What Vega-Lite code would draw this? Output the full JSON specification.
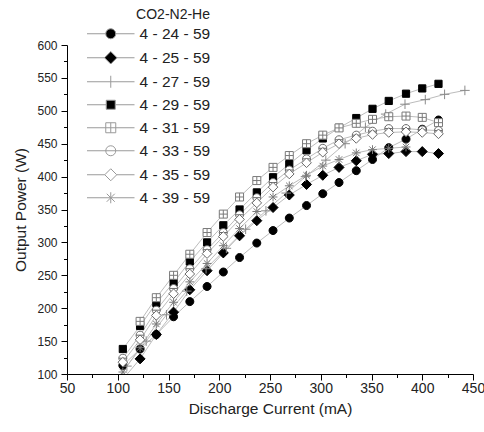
{
  "$schema": "https://vega.github.io/schema/vega-lite/v6.json",
  "width": 406,
  "height": 329,
  "autosize": {"type": "none"},
  "padding": {"left": 67, "top": 45, "right": 11, "bottom": 58},
  "background": "white",
  "config": {
    "view": {"stroke": null},
    "font": "Liberation Sans",
    "axis": {
      "grid": false,
      "domainColor": "#000",
      "tickColor": "#000",
      "labelColor": "#222",
      "titleColor": "#222",
      "titleFontWeight": "normal",
      "titleFont": "Liberation Sans",
      "labelFont": "Liberation Sans"
    },
    "legend": {"titleFontWeight": "normal"}
  },
  "data": {
    "values": [
      {"s": "4 - 24 - 59", "x": 105, "y": 113}, {"s": "4 - 24 - 59", "x": 122, "y": 138}, {"s": "4 - 24 - 59", "x": 138, "y": 160}, {"s": "4 - 24 - 59", "x": 155, "y": 187}, {"s": "4 - 24 - 59", "x": 171, "y": 210}, {"s": "4 - 24 - 59", "x": 188, "y": 233}, {"s": "4 - 24 - 59", "x": 204, "y": 255}, {"s": "4 - 24 - 59", "x": 220, "y": 277}, {"s": "4 - 24 - 59", "x": 237, "y": 299}, {"s": "4 - 24 - 59", "x": 253, "y": 318}, {"s": "4 - 24 - 59", "x": 269, "y": 337}, {"s": "4 - 24 - 59", "x": 286, "y": 356}, {"s": "4 - 24 - 59", "x": 302, "y": 374}, {"s": "4 - 24 - 59", "x": 318, "y": 391}, {"s": "4 - 24 - 59", "x": 335, "y": 409}, {"s": "4 - 24 - 59", "x": 351, "y": 426}, {"s": "4 - 24 - 59", "x": 367, "y": 444}, {"s": "4 - 24 - 59", "x": 384, "y": 457}, {"s": "4 - 24 - 59", "x": 400, "y": 472}, {"s": "4 - 24 - 59", "x": 416, "y": 486},
      {"s": "4 - 25 - 59", "x": 105, "y": 92}, {"s": "4 - 25 - 59", "x": 122, "y": 123}, {"s": "4 - 25 - 59", "x": 138, "y": 160}, {"s": "4 - 25 - 59", "x": 155, "y": 194}, {"s": "4 - 25 - 59", "x": 171, "y": 228}, {"s": "4 - 25 - 59", "x": 188, "y": 257}, {"s": "4 - 25 - 59", "x": 204, "y": 284}, {"s": "4 - 25 - 59", "x": 220, "y": 310}, {"s": "4 - 25 - 59", "x": 237, "y": 333}, {"s": "4 - 25 - 59", "x": 253, "y": 353}, {"s": "4 - 25 - 59", "x": 269, "y": 372}, {"s": "4 - 25 - 59", "x": 286, "y": 388}, {"s": "4 - 25 - 59", "x": 302, "y": 402}, {"s": "4 - 25 - 59", "x": 318, "y": 414}, {"s": "4 - 25 - 59", "x": 335, "y": 424}, {"s": "4 - 25 - 59", "x": 351, "y": 434}, {"s": "4 - 25 - 59", "x": 367, "y": 435}, {"s": "4 - 25 - 59", "x": 384, "y": 438}, {"s": "4 - 25 - 59", "x": 400, "y": 438}, {"s": "4 - 25 - 59", "x": 416, "y": 435},
      {"s": "4 - 27 - 59", "x": 109, "y": 112}, {"s": "4 - 27 - 59", "x": 128, "y": 150}, {"s": "4 - 27 - 59", "x": 148, "y": 190}, {"s": "4 - 27 - 59", "x": 168, "y": 226}, {"s": "4 - 27 - 59", "x": 187, "y": 260}, {"s": "4 - 27 - 59", "x": 207, "y": 291}, {"s": "4 - 27 - 59", "x": 226, "y": 320}, {"s": "4 - 27 - 59", "x": 246, "y": 348}, {"s": "4 - 27 - 59", "x": 266, "y": 375}, {"s": "4 - 27 - 59", "x": 285, "y": 400}, {"s": "4 - 27 - 59", "x": 305, "y": 425}, {"s": "4 - 27 - 59", "x": 324, "y": 450}, {"s": "4 - 27 - 59", "x": 344, "y": 475}, {"s": "4 - 27 - 59", "x": 364, "y": 495}, {"s": "4 - 27 - 59", "x": 383, "y": 510}, {"s": "4 - 27 - 59", "x": 403, "y": 517}, {"s": "4 - 27 - 59", "x": 422, "y": 525}, {"s": "4 - 27 - 59", "x": 442, "y": 531},
      {"s": "4 - 29 - 59", "x": 105, "y": 138}, {"s": "4 - 29 - 59", "x": 122, "y": 173}, {"s": "4 - 29 - 59", "x": 138, "y": 208}, {"s": "4 - 29 - 59", "x": 155, "y": 239}, {"s": "4 - 29 - 59", "x": 171, "y": 271}, {"s": "4 - 29 - 59", "x": 188, "y": 300}, {"s": "4 - 29 - 59", "x": 204, "y": 326}, {"s": "4 - 29 - 59", "x": 220, "y": 350}, {"s": "4 - 29 - 59", "x": 237, "y": 376}, {"s": "4 - 29 - 59", "x": 253, "y": 399}, {"s": "4 - 29 - 59", "x": 269, "y": 419}, {"s": "4 - 29 - 59", "x": 286, "y": 440}, {"s": "4 - 29 - 59", "x": 302, "y": 458}, {"s": "4 - 29 - 59", "x": 318, "y": 474}, {"s": "4 - 29 - 59", "x": 335, "y": 489}, {"s": "4 - 29 - 59", "x": 351, "y": 503}, {"s": "4 - 29 - 59", "x": 367, "y": 515}, {"s": "4 - 29 - 59", "x": 384, "y": 526}, {"s": "4 - 29 - 59", "x": 400, "y": 534}, {"s": "4 - 29 - 59", "x": 416, "y": 541},
      {"s": "4 - 31 - 59", "x": 122, "y": 180}, {"s": "4 - 31 - 59", "x": 138, "y": 216}, {"s": "4 - 31 - 59", "x": 155, "y": 250}, {"s": "4 - 31 - 59", "x": 171, "y": 282}, {"s": "4 - 31 - 59", "x": 188, "y": 315}, {"s": "4 - 31 - 59", "x": 204, "y": 343}, {"s": "4 - 31 - 59", "x": 220, "y": 369}, {"s": "4 - 31 - 59", "x": 237, "y": 394}, {"s": "4 - 31 - 59", "x": 253, "y": 414}, {"s": "4 - 31 - 59", "x": 269, "y": 432}, {"s": "4 - 31 - 59", "x": 286, "y": 450}, {"s": "4 - 31 - 59", "x": 302, "y": 463}, {"s": "4 - 31 - 59", "x": 318, "y": 474}, {"s": "4 - 31 - 59", "x": 335, "y": 481}, {"s": "4 - 31 - 59", "x": 351, "y": 487}, {"s": "4 - 31 - 59", "x": 367, "y": 491}, {"s": "4 - 31 - 59", "x": 384, "y": 492}, {"s": "4 - 31 - 59", "x": 400, "y": 490}, {"s": "4 - 31 - 59", "x": 416, "y": 482},
      {"s": "4 - 33 - 59", "x": 105, "y": 124}, {"s": "4 - 33 - 59", "x": 122, "y": 159}, {"s": "4 - 33 - 59", "x": 138, "y": 197}, {"s": "4 - 33 - 59", "x": 155, "y": 230}, {"s": "4 - 33 - 59", "x": 171, "y": 260}, {"s": "4 - 33 - 59", "x": 188, "y": 289}, {"s": "4 - 33 - 59", "x": 204, "y": 315}, {"s": "4 - 33 - 59", "x": 220, "y": 342}, {"s": "4 - 33 - 59", "x": 237, "y": 368}, {"s": "4 - 33 - 59", "x": 253, "y": 391}, {"s": "4 - 33 - 59", "x": 269, "y": 410}, {"s": "4 - 33 - 59", "x": 286, "y": 427}, {"s": "4 - 33 - 59", "x": 302, "y": 443}, {"s": "4 - 33 - 59", "x": 318, "y": 456}, {"s": "4 - 33 - 59", "x": 335, "y": 463}, {"s": "4 - 33 - 59", "x": 351, "y": 469}, {"s": "4 - 33 - 59", "x": 367, "y": 473}, {"s": "4 - 33 - 59", "x": 384, "y": 473}, {"s": "4 - 33 - 59", "x": 400, "y": 471}, {"s": "4 - 33 - 59", "x": 416, "y": 470},
      {"s": "4 - 35 - 59", "x": 105, "y": 118}, {"s": "4 - 35 - 59", "x": 122, "y": 152}, {"s": "4 - 35 - 59", "x": 138, "y": 189}, {"s": "4 - 35 - 59", "x": 155, "y": 222}, {"s": "4 - 35 - 59", "x": 171, "y": 252}, {"s": "4 - 35 - 59", "x": 188, "y": 283}, {"s": "4 - 35 - 59", "x": 204, "y": 309}, {"s": "4 - 35 - 59", "x": 220, "y": 335}, {"s": "4 - 35 - 59", "x": 237, "y": 360}, {"s": "4 - 35 - 59", "x": 253, "y": 384}, {"s": "4 - 35 - 59", "x": 269, "y": 404}, {"s": "4 - 35 - 59", "x": 286, "y": 421}, {"s": "4 - 35 - 59", "x": 302, "y": 437}, {"s": "4 - 35 - 59", "x": 318, "y": 450}, {"s": "4 - 35 - 59", "x": 335, "y": 458}, {"s": "4 - 35 - 59", "x": 351, "y": 464}, {"s": "4 - 35 - 59", "x": 367, "y": 467}, {"s": "4 - 35 - 59", "x": 384, "y": 468}, {"s": "4 - 35 - 59", "x": 400, "y": 467}, {"s": "4 - 35 - 59", "x": 416, "y": 465},
      {"s": "4 - 39 - 59", "x": 105, "y": 103}, {"s": "4 - 39 - 59", "x": 122, "y": 140}, {"s": "4 - 39 - 59", "x": 138, "y": 176}, {"s": "4 - 39 - 59", "x": 155, "y": 209}, {"s": "4 - 39 - 59", "x": 171, "y": 240}, {"s": "4 - 39 - 59", "x": 188, "y": 268}, {"s": "4 - 39 - 59", "x": 204, "y": 295}, {"s": "4 - 39 - 59", "x": 220, "y": 321}, {"s": "4 - 39 - 59", "x": 237, "y": 347}, {"s": "4 - 39 - 59", "x": 253, "y": 369}, {"s": "4 - 39 - 59", "x": 269, "y": 386}, {"s": "4 - 39 - 59", "x": 286, "y": 402}, {"s": "4 - 39 - 59", "x": 302, "y": 416}, {"s": "4 - 39 - 59", "x": 318, "y": 426}, {"s": "4 - 39 - 59", "x": 335, "y": 436}, {"s": "4 - 39 - 59", "x": 351, "y": 441}, {"s": "4 - 39 - 59", "x": 367, "y": 443}, {"s": "4 - 39 - 59", "x": 384, "y": 445}
    ]
  },
  "encoding": {
    "x": {
      "field": "x", "type": "quantitative",
      "scale": {"domain": [50, 450], "nice": false, "zero": false},
      "axis": {
        "title": "Discharge Current (mA)",
        "values": [50, 75, 100, 125, 150, 175, 200, 225, 250, 275, 300, 325, 350, 375, 400, 425, 450],
        "labelExpr": "datum.value % 50 === 0 ? datum.label : ''",
        "tickSize": {"condition": {"test": "datum.value % 50 !== 0", "value": 3.5}, "value": 6},
        "labelFontSize": 14, "labelPadding": 1, "labelFlush": false,
        "titleFontSize": 15.5, "titlePadding": 6
      }
    },
    "y": {
      "field": "y", "type": "quantitative",
      "scale": {"domain": [100, 600], "nice": false, "zero": false},
      "axis": {
        "title": "Output Power (W)",
        "values": [100, 125, 150, 175, 200, 225, 250, 275, 300, 325, 350, 375, 400, 425, 450, 475, 500, 525, 550, 575, 600],
        "labelExpr": "datum.value % 50 === 0 ? datum.label : ''",
        "tickSize": {"condition": {"test": "datum.value % 50 !== 0", "value": 3.5}, "value": 6},
        "labelFontSize": 12, "labelPadding": 4, "labelFlush": false,
        "titleFontSize": 15.5, "titlePadding": 8
      }
    }
  },
  "layer": [
    {
      "mark": {"type": "line", "color": "#bcbcbc", "strokeWidth": 1, "clip": true},
      "encoding": {"detail": {"field": "s", "type": "nominal"}}
    },
    {
      "mark": {"type": "point", "filled": true, "clip": true, "size": 64, "strokeWidth": 1, "opacity": 1},
      "encoding": {
        "shape": {
          "field": "s", "type": "nominal", "legend": null,
          "scale": {
            "domain": ["4 - 24 - 59", "4 - 25 - 59", "4 - 27 - 59", "4 - 29 - 59", "4 - 31 - 59", "4 - 33 - 59", "4 - 35 - 59", "4 - 39 - 59"],
            "range": [
              "M-1,0A1,1 0 1,1 1,0A1,1 0 1,1 -1,0Z",
              "M0,-1.25L1.25,0L0,1.25L-1.25,0Z",
              "M-1.2,0H1.2M0,-1.2V1.2",
              "M-0.9,-0.9H0.9V0.9H-0.9Z",
              "M-1,-1H1V1H-1ZM-1,0H1M0,-1V1",
              "M-1,0A1,1 0 1,1 1,0A1,1 0 1,1 -1,0ZM-1,0H1",
              "M0,-1.2L1.2,0L0,1.2L-1.2,0Z",
              "M-1.1,0H1.1M0,-1.1V1.1M-0.8,-0.8L0.8,0.8M-0.8,0.8L0.8,-0.8"
            ]
          }
        },
        "fill": {
          "field": "s", "type": "nominal", "legend": null,
          "scale": {
            "domain": ["4 - 24 - 59", "4 - 25 - 59", "4 - 27 - 59", "4 - 29 - 59", "4 - 31 - 59", "4 - 33 - 59", "4 - 35 - 59", "4 - 39 - 59"],
            "range": ["#000000", "#000000", "#ffffff", "#000000", "#ffffff", "#ffffff", "#ffffff", "#ffffff"]
          }
        },
        "stroke": {
          "field": "s", "type": "nominal", "legend": null,
          "scale": {
            "domain": ["4 - 24 - 59", "4 - 25 - 59", "4 - 27 - 59", "4 - 29 - 59", "4 - 31 - 59", "4 - 33 - 59", "4 - 35 - 59", "4 - 39 - 59"],
            "range": ["#000000", "#000000", "#8a8a8a", "#000000", "#7a7a7a", "#6a6a6a", "#6a6a6a", "#7a7a7a"]
          }
        }
      }
    },
    {
      "mark": {"type": "point", "filled": true, "clip": true, "size": 64, "strokeWidth": 1, "opacity": 0},
      "encoding": {
        "shape": {
          "field": "s", "type": "nominal",
          "scale": {
            "domain": ["4 - 24 - 59", "4 - 25 - 59", "4 - 27 - 59", "4 - 29 - 59", "4 - 31 - 59", "4 - 33 - 59", "4 - 35 - 59", "4 - 39 - 59"],
            "range": [
              "M-4.75,0H-1M1,0H4.75M-1,0A1,1 0 1,1 1,0A1,1 0 1,1 -1,0Z",
              "M-4.75,0H-1.25M1.25,0H4.75M0,-1.25L1.25,0L0,1.25L-1.25,0Z",
              "M-4.75,0H4.75M0,-1.2V1.2",
              "M-4.75,0H-0.9M0.9,0H4.75M-0.9,-0.9H0.9V0.9H-0.9Z",
              "M-4.75,0H4.75M-1,-1H1V1H-1ZM0,-1V1",
              "M-4.75,0H4.75M-1,0A1,1 0 1,1 1,0A1,1 0 1,1 -1,0Z",
              "M-4.75,0H-1.2M1.2,0H4.75M0,-1.2L1.2,0L0,1.2L-1.2,0Z",
              "M-4.75,0H4.75M0,-1.1V1.1M-0.8,-0.8L0.8,0.8M-0.8,0.8L0.8,-0.8"
            ]
          },
          "legend": {
            "title": "CO2-N2-He", "orient": "none", "legendX": 36, "legendY": -37,
            "titleAnchor": "end", "titleFontSize": 14, "titleColor": "#222", "titlePadding": 4,
            "labelFontSize": 15.5, "labelColor": "#222", "labelOffset": 21, "rowPadding": 6,
            "padding": 0, "symbolOpacity": 1, "symbolStrokeWidth": 1
          }
        },
        "fill": {
          "field": "s", "type": "nominal",
          "scale": {
            "domain": ["4 - 24 - 59", "4 - 25 - 59", "4 - 27 - 59", "4 - 29 - 59", "4 - 31 - 59", "4 - 33 - 59", "4 - 35 - 59", "4 - 39 - 59"],
            "range": ["#000000", "#000000", "#ffffff", "#000000", "#ffffff", "#ffffff", "#ffffff", "#ffffff"]
          },
          "legend": {
            "title": "CO2-N2-He", "orient": "none", "legendX": 36, "legendY": -37,
            "titleAnchor": "end", "titleFontSize": 14, "titleColor": "#222", "titlePadding": 4,
            "labelFontSize": 15.5, "labelColor": "#222", "labelOffset": 21, "rowPadding": 6,
            "padding": 0, "symbolOpacity": 1, "symbolStrokeWidth": 1
          }
        },
        "stroke": {
          "field": "s", "type": "nominal",
          "scale": {
            "domain": ["4 - 24 - 59", "4 - 25 - 59", "4 - 27 - 59", "4 - 29 - 59", "4 - 31 - 59", "4 - 33 - 59", "4 - 35 - 59", "4 - 39 - 59"],
            "range": ["#9a9a9a", "#9a9a9a", "#9a9a9a", "#9a9a9a", "#9a9a9a", "#9a9a9a", "#9a9a9a", "#9a9a9a"]
          },
          "legend": {
            "title": "CO2-N2-He", "orient": "none", "legendX": 36, "legendY": -37,
            "titleAnchor": "end", "titleFontSize": 14, "titleColor": "#222", "titlePadding": 4,
            "labelFontSize": 15.5, "labelColor": "#222", "labelOffset": 21, "rowPadding": 6,
            "padding": 0, "symbolOpacity": 1, "symbolStrokeWidth": 1
          }
        }
      }
    }
  ],
  "resolve": {"scale": {"shape": "independent", "fill": "independent", "stroke": "independent"}}
}
